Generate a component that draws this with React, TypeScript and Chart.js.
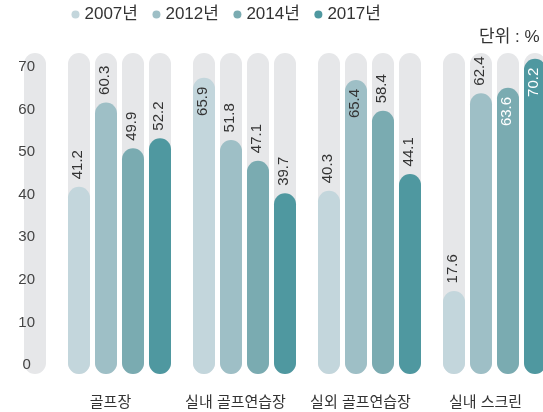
import React, { useEffect, useRef } from 'react';
import { Chart, registerables } from 'chart.js';

Chart.register(...registerables);

const categories = ['골프장', '실내 골프연습장', '실외 골프연습장', '실내 스크린'];
const seriesLabels = ['2007년', '2012년', '2014년', '2017년'];
const values2007 = [41.2, 65.9, 40.3, 17.6];
const values2012 = [60.3, 51.8, 65.4, 62.4];
const values2014 = [49.9, 47.1, 58.4, 63.6];
const values2017 = [52.2, 39.7, 44.1, 70.2];
const tickValues = [0, 10, 20, 30, 40, 50, 60, 70];
const unitLabel = '단위 : %';

const seriesColors = ['#c3d6dc', '#9ebfc6', '#7aabb1', '#4f98a0'];
const insideLabelColors = ['#333333', '#333333', '#ffffff', '#ffffff'];
const pillColor = '#e6e7e9';
const textColor = '#333333';
const FONT = "'Liberation Sans', 'Noto Sans CJK KR', sans-serif";

// scale calibration (data units)
const Y_MIN = -1.22;
const Y_MAX = 76.03;
const PILL_TOP_VALUE = 71.5;
const TICK_MIN = -2.114;
const TICK_MAX = 77.99;

const decorPlugin = {
  id: 'decor',
  beforeDraw(chart: any) {
    const { ctx, chartArea, scales } = chart;
    const yTop = scales.y.getPixelForValue(PILL_TOP_VALUE);
    const bottom = chartArea.bottom;
    ctx.save();
    ctx.fillStyle = pillColor;
    ctx.beginPath();
    ctx.roundRect(chartArea.left - 33, yTop, 22, bottom - yTop, 11);
    ctx.fill();
    chart.data.datasets.forEach((_ds: any, i: number) => {
      const meta = chart.getDatasetMeta(i);
      meta.data.forEach((el: any) => {
        const { x, width } = el.getProps(['x', 'width'], true);
        ctx.beginPath();
        ctx.roundRect(x - width / 2, yTop, width, bottom - yTop, width / 2);
        ctx.fill();
      });
    });
    ctx.restore();
  },
  afterDatasetsDraw(chart: any) {
    const { ctx, scales } = chart;
    const pillTop = scales.y.getPixelForValue(PILL_TOP_VALUE);
    ctx.save();
    ctx.font = `15px ${FONT}`;
    ctx.textBaseline = 'alphabetic';
    chart.data.datasets.forEach((ds: any, i: number) => {
      const meta = chart.getDatasetMeta(i);
      meta.data.forEach((el: any, j: number) => {
        const v = ds.data[j];
        const text = v.toFixed(1);
        const w = ctx.measureText(text).width;
        const { x, y } = el.getProps(['x', 'y'], true);
        ctx.save();
        if (y - 7.5 - w < pillTop) {
          ctx.translate(x + 2.5, y + 9);
          ctx.rotate(-Math.PI / 2);
          ctx.textAlign = 'right';
          ctx.fillStyle = insideLabelColors[i];
        } else {
          ctx.translate(x + 2.5, y - 7.5);
          ctx.rotate(-Math.PI / 2);
          ctx.textAlign = 'left';
          ctx.fillStyle = textColor;
        }
        ctx.fillText(text, 0, 0);
        ctx.restore();
      });
    });
    ctx.restore();
  },
  afterDraw(chart: any) {
    const { ctx, chartArea } = chart;
    ctx.save();
    ctx.font = `17px ${FONT}`;
    ctx.fillStyle = textColor;
    ctx.textAlign = 'left';
    ctx.textBaseline = 'middle';
    ctx.fillText(unitLabel, chartArea.right - 78, 37);
    ctx.restore();
  },
};

export default function App() {
  const ref = useRef<HTMLCanvasElement | null>(null);

  useEffect(() => {
    if (!ref.current) return;
    const seriesValues = [values2007, values2012, values2014, values2017];
    const chart = new Chart(ref.current, {
      type: 'bar',
      data: {
        labels: categories,
        datasets: seriesLabels.map((label, i) => ({
          label,
          data: seriesValues[i],
          backgroundColor: seriesColors[i],
          borderWidth: 0,
          borderRadius: 11,
          borderSkipped: false,
          base: Y_MIN,
          categoryPercentage: 0.864,
          barPercentage: 0.815,
          yAxisID: 'y',
        })),
      },
      options: {
        responsive: false,
        animation: false,
        devicePixelRatio: 1,
        layout: { padding: { left: 0, top: -12, right: 0, bottom: 0 } },
        plugins: {
          tooltip: { enabled: false },
          legend: {
            display: true,
            position: 'top',
            align: 'start',
            fullSize: false,
            labels: {
              usePointStyle: true,
              pointStyle: 'circle',
              boxWidth: 1,
              boxHeight: 5.66,
              padding: 18,
              color: textColor,
              font: { size: 17, family: FONT },
            },
          },
        },
        scales: {
          x: {
            type: 'category',
            position: 'bottom',
            grid: { display: false },
            border: { display: false },
            ticks: {
              color: textColor,
              font: { size: 15, family: FONT },
              padding: 12,
              labelOffset: -9,
              maxRotation: 0,
              autoSkip: false,
            },
            afterFit: (s: any) => {
              s.height = 38;
            },
          },
          y: {
            type: 'linear',
            position: 'left',
            display: false,
            min: Y_MIN,
            max: Y_MAX,
          },
          yt: {
            type: 'linear',
            axis: 'y',
            position: 'left',
            min: TICK_MIN,
            max: TICK_MAX,
            grid: { display: false },
            border: { display: false },
            ticks: {
              color: '#444444',
              font: { size: 15, family: FONT },
              crossAlign: 'center',
              padding: 14,
              autoSkip: false,
            },
            afterBuildTicks: (s: any) => {
              s.ticks = tickValues.map((v) => ({ value: v }));
            },
            afterFit: (s: any) => {
              s.width = 57;
            },
          },
        },
      } as any,
      plugins: [decorPlugin],
    });
    return () => chart.destroy();
  }, []);

  return (
    <div
      style={{
        position: 'fixed',
        left: 0,
        top: 0,
        width: 543,
        height: 412,
        overflow: 'hidden',
        background: '#ffffff',
      }}
    >
      <canvas ref={ref} width={557} height={412} style={{ display: 'block' }} />
    </div>
  );
}
